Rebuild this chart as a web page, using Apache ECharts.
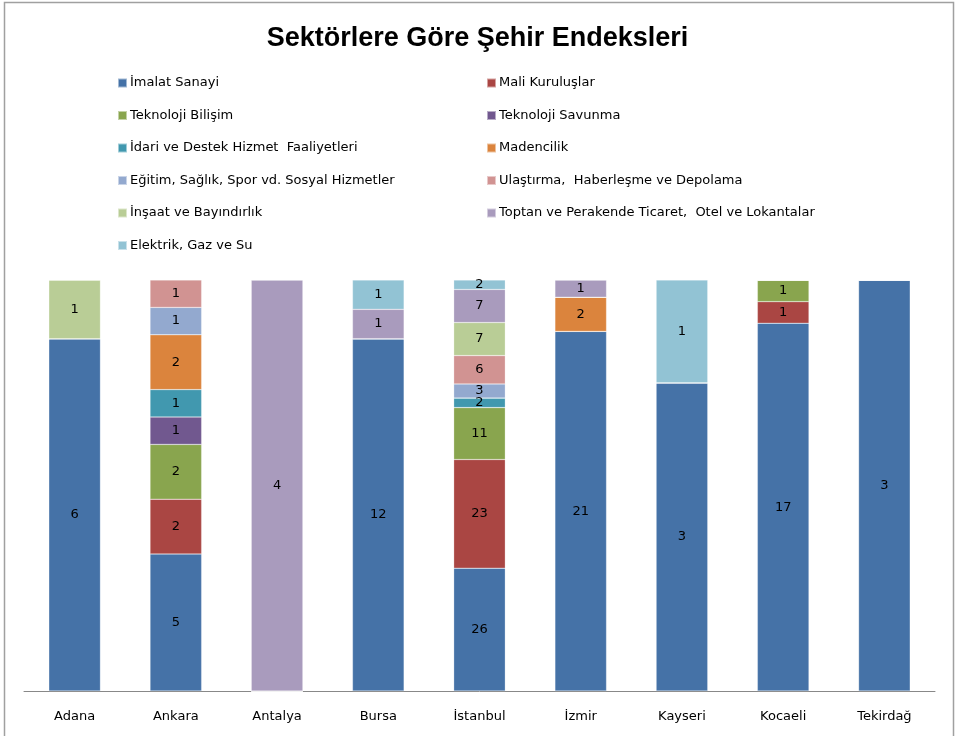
<!DOCTYPE html>
<html>
<head>
<meta charset="utf-8">
<script src="https://cdn.jsdelivr.net/npm/echarts@6/dist/echarts.min.js"></script>
<style>
  html, body { margin: 0; padding: 0; background: #fff; }
  #chart { width: 955px; height: 736px; }
</style>
</head>
<body>
<div id="chart"></div>
<script>
const cities = ['Adana', 'Ankara', 'Antalya', 'Bursa', 'İstanbul', 'İzmir', 'Kayseri', 'Kocaeli', 'Tekirdağ']

const sectorNames = [
  'İmalat Sanayi', 'Mali Kuruluşlar', 'Teknoloji Bilişim', 'Teknoloji Savunma',
  'İdari ve Destek Hizmet  Faaliyetleri', 'Madencilik', 'Eğitim, Sağlık, Spor vd. Sosyal Hizmetler',
  'Ulaştırma,  Haberleşme ve Depolama', 'İnşaat ve Bayındırlık',
  'Toptan ve Perakende Ticaret,  Otel ve Lokantalar', 'Elektrik, Gaz ve Su'
]
const sectorColors = [
  '#4572A7', '#AA4643', '#89A54E', '#71588F', '#4198AF', '#DB843D',
  '#93A9CF', '#D19392', '#B9CD96', '#A99BBD', '#92C3D4'
]

// raw counts per city (same order as cities)
const imalat     = [6, 5, 0, 12, 26, 21, 3, 17, 3]
const mali       = [0, 2, 0, 0, 23, 0, 0, 1, 0]
const bilisim    = [0, 2, 0, 0, 11, 0, 0, 1, 0]
const savunma    = [0, 1, 0, 0, 0, 0, 0, 0, 0]
const idari      = [0, 1, 0, 0, 2, 0, 0, 0, 0]
const madencilik = [0, 2, 0, 0, 0, 2, 0, 0, 0]
const egitim     = [0, 1, 0, 0, 3, 0, 0, 0, 0]
const ulastirma  = [0, 1, 0, 0, 6, 0, 0, 0, 0]
const insaat     = [1, 0, 0, 0, 7, 0, 0, 0, 0]
const toptan     = [0, 0, 4, 1, 7, 1, 0, 0, 0]
const elektrik   = [0, 0, 0, 1, 2, 0, 1, 0, 0]

const sectorValues = [imalat, mali, bilisim, savunma, idari, madencilik, egitim, ulastirma, insaat, toptan, elektrik]

// 100% stacked: share of each sector in its city
const totals = cities.map((c, i) => sectorValues.reduce((s, arr) => s + arr[i], 0))

const chart = echarts.init(document.getElementById('chart'))

const series = sectorNames.map((name, k) => ({
  name: name,
  type: 'bar',
  stack: 'all',
  barWidth: '51%',
  itemStyle: { color: sectorColors[k], borderColor: 'rgba(255,255,255,0.5)', borderWidth: 0.5 },
  label: {
    show: true,
    position: 'inside',
    color: '#000',
    fontSize: 13,
    fontFamily: 'DejaVu Sans',
    formatter: (p) => (sectorValues[k][p.dataIndex] ? String(sectorValues[k][p.dataIndex]) : '')
  },
  data: sectorValues[k].map((v, i) => (v ? v / totals[i] * 100 : 0))
}))

const legendText = { fontSize: 13, fontFamily: 'DejaVu Sans', color: '#000', lineHeight: 16, padding: [0, 0, 0, -2] }
const leftCol = [0, 2, 4, 6, 8, 10].map(i => sectorNames[i])
const rightCol = [1, 3, 5, 7, 9].map(i => sectorNames[i])

chart.setOption({
  animation: false,
  title: {
    text: 'Sektörlere Göre Şehir Endeksleri',
    left: 'center',
    top: 20,
    textStyle: { fontSize: 27, fontWeight: 'bold', fontFamily: 'Liberation Sans', color: '#000' }
  },
  legend: [
    {
      data: leftCol, orient: 'vertical', left: 117, top: 75, padding: 0,
      itemWidth: 9, itemHeight: 9, itemGap: 16.5, textStyle: legendText,
      selectedMode: false, icon: 'rect'
    },
    {
      data: rightCol, orient: 'vertical', left: 486, top: 75, padding: 0,
      itemWidth: 9, itemHeight: 9, itemGap: 16.5, textStyle: legendText,
      selectedMode: false, icon: 'rect'
    }
  ],
  grid: { left: 24, right: 20, top: 280, bottom: 45 },
  xAxis: {
    type: 'category',
    data: cities,
    axisLine: { lineStyle: { color: '#888', width: 1 } },
    axisTick: { show: false },
    axisLabel: { color: '#000', fontSize: 13, fontFamily: 'DejaVu Sans', margin: 19 }
  },
  yAxis: {
    type: 'value',
    min: 0,
    max: 100,
    show: false
  },
  graphic: [{
    type: 'rect',
    shape: { x: 4.5, y: 2.5, width: 949, height: 740 },
    style: { fill: 'none', stroke: '#a0a0a0', lineWidth: 1.5 },
    silent: true
  }],
  series: series
})
</script>
</body>
</html>
